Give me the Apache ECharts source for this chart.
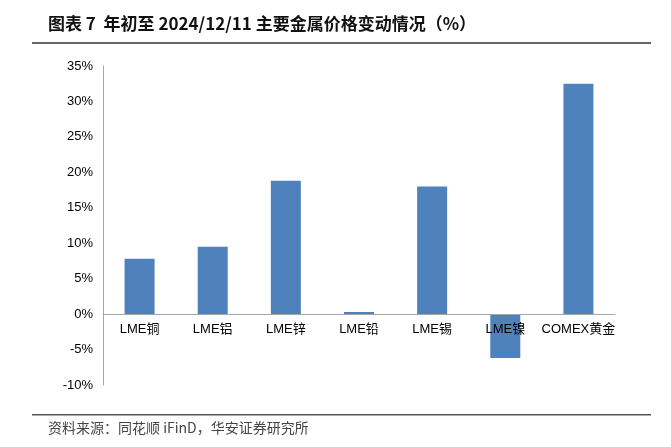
<!DOCTYPE html>
<html>
<head>
<meta charset="utf-8">
<script src="https://cdn.jsdelivr.net/npm/echarts@6/dist/echarts.min.js"></script>
<style>
html,body{margin:0;padding:0;background:#fff;}
#chart{width:671px;height:447px;}
</style>
</head>
<body>
<div id="chart"></div>
<script>
const categories = ['LME铜', 'LME铝', 'LME锌', 'LME铅', 'LME锡', 'LME镍', 'COMEX黄金'];
const changes = [7.8, 9.5, 18.8, 0.3, 18.0, -6.2, 32.5];
const yMin = -10, yMax = 35, yStep = 5;
const titleText = '图表 7  年初至 2024/12/11 主要金属价格变动情况（%）';
const sourceText = '资料来源：同花顺 iFinD，华安证券研究所';

const gridTop = 66, gridBottom = 62, chartH = 447;
const plotH = chartH - gridTop - gridBottom;
const zeroOffset = -plotH * (0 - yMin) / (yMax - yMin);

const chart = echarts.init(document.getElementById('chart'), null, {renderer: 'canvas'});
chart.setOption({
  animation: false,
  backgroundColor: '#fff',
  grid: {left: 103, right: 56, top: gridTop, bottom: gridBottom, containLabel: false},
  xAxis: {
    type: 'category',
    data: categories,
    z: 3,
    offset: zeroOffset,
    axisLine: {onZero: false, lineStyle: {color: '#A6A6A6', width: 1}},
    axisTick: {show: false},
    axisLabel: {
      color: '#000',
      fontSize: 13,
      fontFamily: '"Liberation Sans", "Noto Sans CJK SC", sans-serif',
      margin: 9,
      interval: 0
    }
  },
  yAxis: {
    type: 'value',
    min: yMin, max: yMax, interval: yStep,
    axisLine: {show: true, lineStyle: {color: '#A6A6A6', width: 1}},
    axisTick: {show: false},
    splitLine: {show: false},
    axisLabel: {
      color: '#000',
      fontSize: 13,
      fontFamily: '"Liberation Sans", sans-serif',
      margin: 10,
      formatter: v => v + '%'
    }
  },
  series: [{
    type: 'bar',
    data: changes,
    barWidth: 30,
    itemStyle: {color: '#4F81BD'}
  }],
  graphic: [
    {
      type: 'text', left: 48, top: 15,
      style: {
        text: titleText,
        fill: '#111',
        font: 'bold 17px "Noto Sans CJK SC", "Liberation Sans", sans-serif'
      }
    },
    {
      type: 'rect', shape: {x: 32, y: 42, width: 619, height: 2},
      style: {fill: '#666'}
    },
    {
      type: 'rect', shape: {x: 32, y: 414, width: 619, height: 1.5},
      style: {fill: '#555'}
    },
    {
      type: 'text', left: 48, top: 421,
      style: {
        text: sourceText,
        fill: '#444',
        font: '14px "Noto Sans CJK SC", "Liberation Sans", sans-serif'
      }
    }
  ]
});
</script>
</body>
</html>
